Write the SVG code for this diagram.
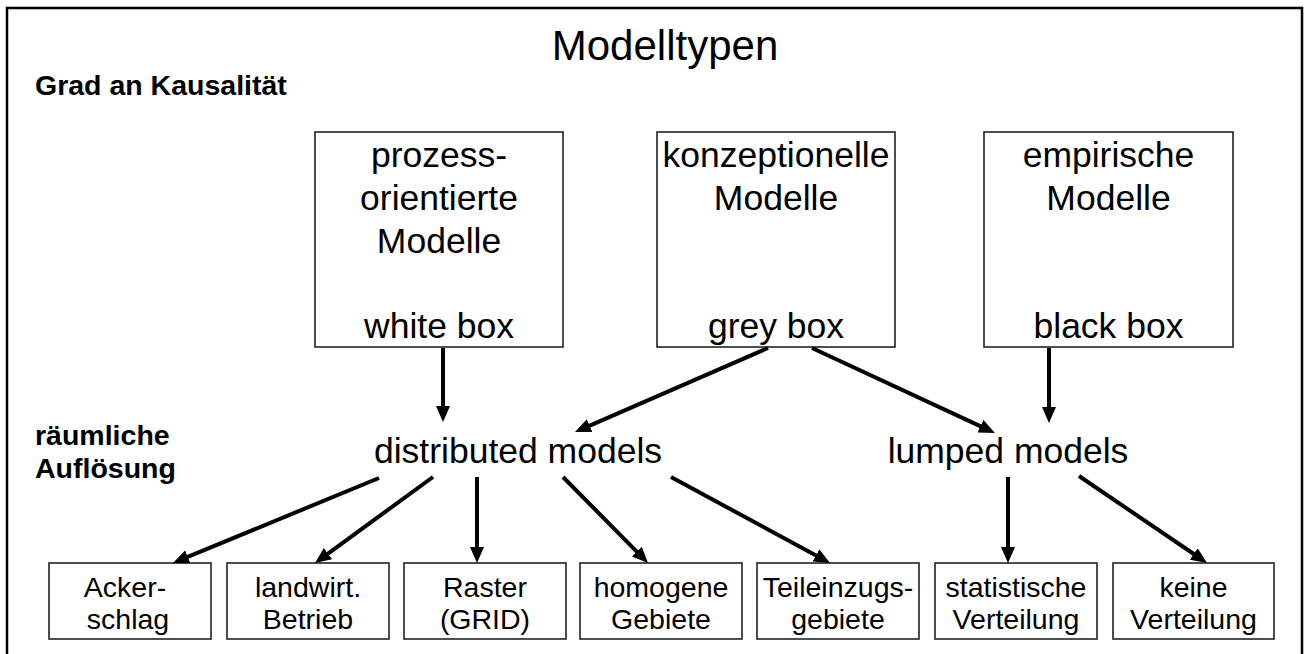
<svg xmlns="http://www.w3.org/2000/svg" width="1306" height="654" viewBox="0 0 1306 654">
  <style>
    text { font-family: "Liberation Sans", Arial, Helvetica, sans-serif; fill: #000; }
    .title { font-size: 42px; text-anchor: middle; }
    .side { font-size: 28.5px; font-weight: bold; }
    .big { font-size: 35.5px; text-anchor: middle; }
    .small { font-size: 28.5px; text-anchor: middle; }
    .box { fill: #fff; stroke: #222; stroke-width: 1.6; }
    .frame { fill: none; stroke: #000; stroke-width: 2.5; }
    .arrow { stroke: #000; stroke-width: 4; fill: none; marker-end: url(#head); }
  </style>
  <defs>
    <marker id="head" markerUnits="userSpaceOnUse" markerWidth="16" markerHeight="14" refX="8" refY="7" orient="auto">
      <path d="M0,0 L16,7 L0,14 z" fill="#000"/>
    </marker>
  </defs>

  <rect width="1306" height="654" fill="#fff"/>
  <rect class="frame" x="7" y="8" width="1295" height="670"/>

  <text class="title" x="665" y="60">Modelltypen</text>
  <text class="side" x="35" y="95">Grad an Kausalität</text>
  <text class="side" x="35" y="445">räumliche</text>
  <text class="side" x="35" y="478">Auflösung</text>

  <!-- model types by degree of causality -->
  <g id="white-box">
    <rect class="box" x="315" y="132" width="248" height="215"/>
    <text class="big" x="439" y="167">prozess-</text>
    <text class="big" x="439" y="210">orientierte</text>
    <text class="big" x="439" y="253">Modelle</text>
    <text class="big" x="439" y="338">white box</text>
  </g>
  <g id="grey-box">
    <rect class="box" x="657" y="132" width="238" height="215"/>
    <text class="big" x="776" y="167">konzeptionelle</text>
    <text class="big" x="776" y="210">Modelle</text>
    <text class="big" x="776" y="338">grey box</text>
  </g>
  <g id="black-box">
    <rect class="box" x="984" y="132" width="249" height="215"/>
    <text class="big" x="1108.5" y="167">empirische</text>
    <text class="big" x="1108.5" y="210">Modelle</text>
    <text class="big" x="1108.5" y="338">black box</text>
  </g>

  <!-- spatial resolution -->
  <g id="distributed">
    <text class="big" x="518" y="463">distributed models</text>
  </g>
  <g id="lumped">
    <text class="big" x="1008" y="463">lumped models</text>
  </g>

  <g id="ackerschlag">
    <rect class="box" x="49" y="563" width="162" height="76"/>
    <text class="small" x="125" y="597">Acker-</text>
    <text class="small" x="128" y="629">schlag</text>
  </g>
  <g id="betrieb">
    <rect class="box" x="227" y="563" width="162" height="76"/>
    <text class="small" x="308" y="597">landwirt.</text>
    <text class="small" x="308" y="629">Betrieb</text>
  </g>
  <g id="raster">
    <rect class="box" x="404" y="563" width="162" height="76"/>
    <text class="small" x="485" y="597">Raster</text>
    <text class="small" x="485" y="629">(GRID)</text>
  </g>
  <g id="homogen">
    <rect class="box" x="580" y="563" width="162" height="76"/>
    <text class="small" x="661" y="597">homogene</text>
    <text class="small" x="661" y="629">Gebiete</text>
  </g>
  <g id="teileinzug">
    <rect class="box" x="757" y="563" width="162" height="76"/>
    <text class="small" x="838" y="597">Teileinzugs-</text>
    <text class="small" x="838" y="629">gebiete</text>
  </g>
  <g id="statistisch">
    <rect class="box" x="935" y="563" width="162" height="76"/>
    <text class="small" x="1016" y="597">statistische</text>
    <text class="small" x="1016" y="629">Verteilung</text>
  </g>
  <g id="keine">
    <rect class="box" x="1113" y="563" width="161" height="76"/>
    <text class="small" x="1193.5" y="597">keine</text>
    <text class="small" x="1193.5" y="629">Verteilung</text>
  </g>

  <g id="connectors">
    <line class="arrow" x1="443" y1="348" x2="443" y2="414"/>
    <line class="arrow" x1="768" y1="348" x2="582.3" y2="428.8"/>
    <line class="arrow" x1="812" y1="348" x2="987.7" y2="429.6"/>
    <line class="arrow" x1="1049" y1="348" x2="1049" y2="415"/>
    <line class="arrow" x1="379" y1="478" x2="180.4" y2="559.9"/>
    <line class="arrow" x1="433" y1="477" x2="321.5" y2="558.3"/>
    <line class="arrow" x1="477" y1="477" x2="477" y2="555"/>
    <line class="arrow" x1="563" y1="477" x2="642.4" y2="557.3"/>
    <line class="arrow" x1="671" y1="477" x2="823" y2="559.2"/>
    <line class="arrow" x1="1008" y1="477" x2="1008" y2="555"/>
    <line class="arrow" x1="1079" y1="476" x2="1200.4" y2="558.5"/>
  </g>
</svg>
